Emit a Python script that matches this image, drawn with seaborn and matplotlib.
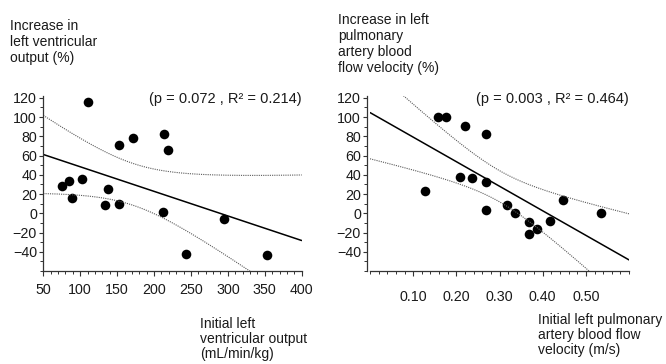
import matplotlib
matplotlib.use("Agg")
import matplotlib.pyplot as plt
from matplotlib.ticker import MultipleLocator, FixedLocator
import numpy as np
import pandas as pd
import seaborn as sns

# left panel: initial LV output vs increase in LV output
lvo_x = [111, 75, 85, 89, 102, 137, 134, 152, 152, 172, 214, 219, 212, 243, 295, 353]
lvo_y = [116, 28, 34, 16, 36, 25, 9, 10, 71, 78, 82, 66, 1, -42, -6, -43]
lvo_stats = "(p = 0.072 , R² = 0.214)"

# right panel: initial LPA flow velocity vs increase in LPA flow velocity
lpa_x = [0.127, 0.158, 0.177, 0.219, 0.268, 0.208, 0.237, 0.268, 0.268,
         0.318, 0.336, 0.368, 0.368, 0.386, 0.417, 0.447, 0.536]
lpa_y = [23.5, 100.5, 100.5, 91, 82, 38, 37, 33, 3.5,
         9, 0, -9.5, -22, -16, -8.4, 13.7, 0]
lpa_stats = "(p = 0.003 , R² = 0.464)"

lvo_xticks = [50, 100, 150, 200, 250, 300, 350, 400]
lpa_xticks = [0.1, 0.2, 0.3, 0.4, 0.5]
lpa_xlabels = ["0.10", "0.20", "0.30", "0.40", "0.50"]
yticks = [-40, -20, 0, 20, 40, 60, 80, 100, 120]

sns.set_style("ticks")
plt.rcParams['font.family'] = ['Liberation Sans', 'DejaVu Sans']
plt.rcParams['text.color'] = '#1a1a1a'


def fit_with_band(x, y, lo, hi):
    # least squares line plus 95% confidence band of the mean
    x = np.asarray(x, float)
    y = np.asarray(y, float)
    n = len(x)
    b, a = np.polyfit(x, y, 1)
    resid = y - (a + b * x)
    s = np.sqrt(np.sum(resid ** 2) / (n - 2))
    sxx = np.sum((x - x.mean()) ** 2)
    t = {14: 2.145, 15: 2.131}[n - 2]
    grid = np.linspace(lo, hi, 200)
    fit = a + b * grid
    half = t * s * np.sqrt(1 / n + (grid - x.mean()) ** 2 / sxx)
    return pd.DataFrame({"x": grid, "fit": fit, "upper": fit + half, "lower": fit - half})


def draw(ax, x, y, xlim, stats):
    band = fit_with_band(x, y, xlim[0], xlim[1])
    sns.lineplot(data=band, x="x", y="fit", ax=ax, color="black", lw=1.1)
    for col in ["upper", "lower"]:
        sns.lineplot(data=band, x="x", y=col, ax=ax, color="#5a5a5a", lw=0.8,
                     linestyle=(0, (1, 1)))
    sns.scatterplot(x=x, y=y, ax=ax, color="black", s=48, edgecolor="black", linewidth=0)
    ax.set_xlim(*xlim)
    ax.set_ylim(-60, 122)
    ax.set_xlabel("")
    ax.set_ylabel("")
    ax.yaxis.set_major_locator(FixedLocator(yticks))
    ax.yaxis.set_minor_locator(MultipleLocator(10))
    ax.text(1.0, 119, stats, transform=ax.get_yaxis_transform(), ha="right",
            va="center", fontsize=10.5)
    for side in ["top", "right"]:
        ax.spines[side].set_visible(False)
    for side in ["left", "bottom"]:
        ax.spines[side].set_linewidth(0.9)
        ax.spines[side].set_color("#333333")
    ax.tick_params(axis="y", which="major", length=3, width=0.8, pad=1.5,
                   labelsize=10.3, colors="#333333", labelcolor="#1a1a1a")
    ax.tick_params(axis="y", which="minor", length=2, width=0.7, colors="#333333")
    ax.tick_params(axis="x", which="major", length=3.5, width=0.8,
                   labelsize=10.3, colors="#333333", labelcolor="#1a1a1a")
    ax.tick_params(axis="x", which="minor", length=2, width=0.7, colors="#333333")


fig = plt.figure(figsize=(6.66, 3.64), dpi=100)
ax1 = fig.add_axes([0.065, 0.2555, 0.388, 0.481])
ax2 = fig.add_axes([0.5556, 0.2555, 0.389, 0.481])

draw(ax1, lvo_x, lvo_y, (50, 400), lvo_stats)
ax1.xaxis.set_major_locator(FixedLocator(lvo_xticks))
ax1.xaxis.set_minor_locator(MultipleLocator(10))
ax1.tick_params(axis="x", which="major", pad=5)

draw(ax2, lpa_x, lpa_y, (0, 0.6), lpa_stats)
ax2.set_xticks(lpa_xticks, lpa_xlabels)
ax2.xaxis.set_minor_locator(MultipleLocator(0.02))
ax2.tick_params(axis="x", which="major", pad=10)
ax2.spines["left"].set_position(("outward", 2))

W, H = 666.0, 364.0
fig.text(10 / W, 1 - 42 / H, "Increase in\nleft ventricular\noutput (%)",
         ha="left", va="center", fontsize=10, linespacing=1.2)
fig.text(338 / W, 1 - 44 / H, "Increase in left\npulmonary\nartery blood\nflow velocity (%)",
         ha="left", va="center", fontsize=10, linespacing=1.2)
fig.text(200 / W, 1 - 339 / H, "Initial left\nventricular output\n(mL/min/kg)",
         ha="left", va="center", fontsize=10, linespacing=1.05)
fig.text(538 / W, 1 - 335 / H, "Initial left pulmonary\nartery blood flow\nvelocity (m/s)",
         ha="left", va="center", fontsize=10, linespacing=1.05)

fig.savefig("out.png", dpi=100)
